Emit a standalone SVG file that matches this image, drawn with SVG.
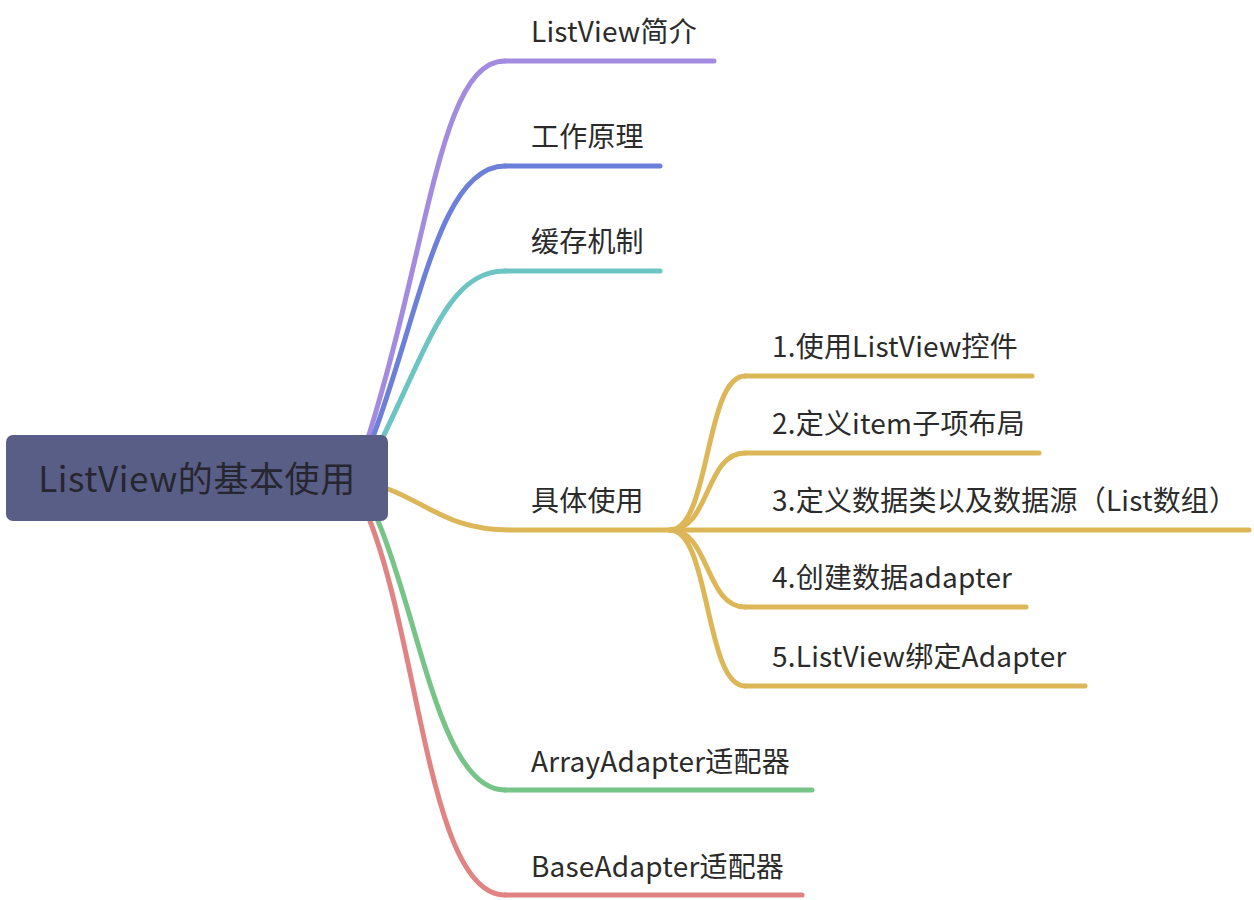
<svg xmlns="http://www.w3.org/2000/svg" width="1254" height="900" viewBox="0 0 1254 900">
<style>
.c{fill:none;stroke-width:5;stroke-linecap:round}
.t{font-family:"Noto Sans CJK SC","Noto Sans",sans-serif;font-size:28px;fill:#2b2b2b;letter-spacing:0.2px}
.rt{font-family:"Noto Sans CJK SC","Noto Sans",sans-serif;font-size:35px;fill:#262630;letter-spacing:0.6px}
.pu{stroke:#A38BE0}.bl{stroke:#6C80D9}.te{stroke:#6CC5C3}.go{stroke:#DDB757}.gr{stroke:#77C488}.re{stroke:#E28383}
</style>
<rect width="1254" height="900" fill="#ffffff"/>
<g id="connectors">
<path class="c pu" d="M368,438 C430,240 440,61 505,61"/>
<path class="c bl" d="M373,437 C420,310 440,166 505,166"/>
<path class="c te" d="M383,437 C430,340 450,271 505,271"/>
<path class="c go" d="M388,489 C430,505 450,530 510,530 L670,530"/>
<path class="c gr" d="M378,521 C420,620 440,790 505,790"/>
<path class="c re" d="M370,521 C420,650 430,895 505,895"/>
<path class="c go" d="M670,530 C710,530 705,376 745,376"/>
<path class="c go" d="M670,530 C710,530 705,453 745,453"/>
<path class="c go" d="M670,530 C710,530 705,607 745,607"/>
<path class="c go" d="M670,530 C710,530 705,686 745,686"/>
</g>
<g id="root">
<rect x="6" y="435" width="382" height="86" rx="7" fill="#585E86"/>
<text class="rt" x="197" y="492" text-anchor="middle">ListView的基本使用</text>
</g>
<g id="n1"><text class="t" x="531" y="42">ListView简介</text><path class="c pu" d="M505,61 H714"/></g>
<g id="n2"><text class="t" x="531" y="147">工作原理</text><path class="c bl" d="M505,166 H660"/></g>
<g id="n3"><text class="t" x="531" y="252">缓存机制</text><path class="c te" d="M505,271 H660"/></g>
<g id="n4"><text class="t" x="531" y="511">具体使用</text></g>
<g id="n4-1"><text class="t" x="772" y="357">1.使用ListView控件</text><path class="c go" d="M745,376 H1032"/></g>
<g id="n4-2"><text class="t" x="772" y="434">2.定义item子项布局</text><path class="c go" d="M745,453 H1039"/></g>
<g id="n4-3"><text class="t" x="772" y="511">3.定义数据类以及数据源（List数组）</text><path class="c go" d="M670,530 H1249"/></g>
<g id="n4-4"><text class="t" x="772" y="588">4.创建数据adapter</text><path class="c go" d="M745,607 H1026"/></g>
<g id="n4-5"><text class="t" x="772" y="667">5.ListView绑定Adapter</text><path class="c go" d="M745,686 H1085"/></g>
<g id="n5"><text class="t" x="531" y="772">ArrayAdapter适配器</text><path class="c gr" d="M505,790 H812"/></g>
<g id="n6"><text class="t" x="531" y="877">BaseAdapter适配器</text><path class="c re" d="M505,895 H802"/></g>
</svg>
